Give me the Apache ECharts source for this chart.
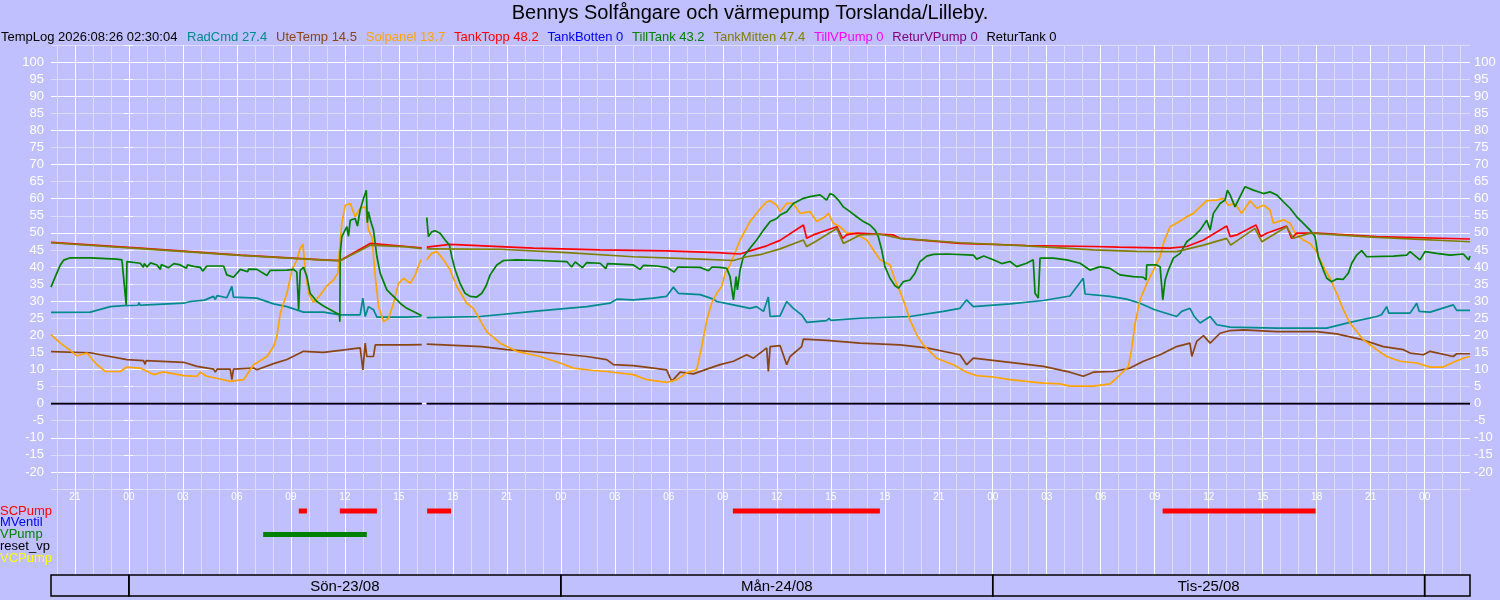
<!DOCTYPE html>
<html>
<head>
<meta charset="utf-8">
<title>Bennys Solfångare och värmepump</title>
<script src="https://cdn.jsdelivr.net/npm/echarts@6.0.0/dist/echarts.min.js"></script>
<style>
    html, body { margin: 0; padding: 0; background: #c0c0ff; }
    #chart { width: 1500px; height: 600px; }
</style>
</head>
<body>
<div id="chart"></div>
<script>
// tid = timmar från 2026-08-23 00:00 (negativt = lördag 22/08)
const X_MIN = -4.33;
const X_MAX = 74.52;

const seriesNames = ['RadCmd', 'UteTemp', 'Solpanel', 'TankTopp', 'TankBotten', 'TillTank', 'TankMitten', 'TillVPump', 'ReturVPump', 'ReturTank'];
const seriesColors = ['#008b8b', '#8b4513', '#ffa500', '#ff0000', '#0000ff', '#008000', '#808000', '#ff00ff', '#800080', '#000000'];
const lastValues = [27.4, 14.5, 13.7, 48.2, 0, 43.2, 47.4, 0, 0, 0];

// [tid, värde], null = avbrott i loggen
const radCmd = [[-4.33,26.7],[-2.15,26.8],[-1.59,27.6],[-1.04,28.4],[-0.30,28.7],[0.5,28.8],[0.56,29.6],[0.62,28.8],[1.0,28.9],[3.04,29.4],[3.41,29.9],[4.2,30.3],[4.70,31.4],[4.8,30.5],[4.9,31.6],[5.44,31.0],[5.72,34.3],[5.81,31.2],[7.11,30.9],[8.04,29.2],[8.78,28.4],[9.70,26.8],[10.81,26.8],[11.74,26.0],[12.85,26.0],[13.0,30.9],[13.13,25.5],[13.31,28.4],[13.59,27.5],[13.78,25.3],[15.44,25.3],[16.22,25.5],[16.42,null],[16.55,25.2],[19.51,25.5],[22.48,27.0],[25.44,28.4],[26.74,29.4],[27.11,30.6],[28.03,30.4],[29.14,30.9],[29.88,31.4],[30.25,34.1],[30.53,32.3],[31.74,31.9],[32.48,30.6],[32.66,29.9],[33.59,28.9],[34.51,27.9],[34.88,28.4],[35.26,27.0],[35.53,31.2],[35.63,25.5],[36.18,25.7],[36.55,29.9],[36.92,27.9],[37.38,26.0],[37.66,23.8],[38.77,24.3],[38.9,25.0],[39.0,24.4],[40.63,25.0],[43.4,25.5],[45.25,27.0],[46.18,27.9],[46.55,30.4],[46.92,28.4],[48.96,29.2],[50.81,30.2],[52.29,31.5],[53.03,36.7],[53.13,32.1],[54.51,31.4],[55.44,30.6],[56.18,29.4],[57.0,27.5],[58.22,25.5],[58.5,27.0],[58.96,27.9],[59.2,25.5],[59.52,23.6],[60.08,25.5],[60.45,23.1],[61.19,22.4],[63.78,22.1],[66.56,22.1],[67.85,23.8],[69.33,25.5],[69.6,26.0],[69.89,28.4],[70.0,26.5],[71.19,26.5],[71.56,29.4],[71.7,27.0],[72.3,26.8],[73.59,28.9],[73.78,27.3],[74.52,27.3]];

const uteTemp = [[-4.33,15.2],[-2.15,14.9],[-1.59,14.3],[-0.11,12.9],[0.81,12.6],[0.9,11.5],[0.95,12.6],[3.04,12.1],[3.78,10.9],[4.70,10.1],[4.80,9.2],[4.9,10.1],[5.63,10.1],[5.72,7.0],[5.81,10.1],[6.93,10.4],[7.11,9.9],[8.04,11.7],[8.78,12.9],[9.70,15.3],[10.81,15.0],[11.74,15.6],[12.85,16.3],[13.0,9.9],[13.13,17.7],[13.22,13.8],[13.59,13.8],[13.69,17.2],[15.44,17.2],[16.27,17.3],[16.42,null],[16.55,17.4],[19.61,16.7],[21.0,15.8],[23.96,14.6],[25.44,13.8],[26.55,12.9],[26.92,11.4],[28.03,11.1],[29.14,10.4],[29.88,9.9],[30.16,6.5],[30.63,9.2],[31.37,8.7],[32.11,10.1],[32.85,11.4],[33.59,12.4],[34.33,14.3],[34.7,13.3],[35.07,14.8],[35.44,16.3],[35.53,9.4],[35.63,16.7],[36.18,17.0],[36.55,11.4],[36.74,13.8],[37.38,16.7],[37.48,18.9],[38.77,18.5],[40.63,17.7],[42.85,17.2],[44.33,16.3],[46.18,14.3],[46.55,11.4],[46.92,13.3],[48.96,12.1],[50.81,10.9],[52.29,9.2],[53.03,8.0],[53.59,9.2],[54.7,9.4],[55.63,10.4],[56.37,12.4],[57.3,14.3],[58.22,16.7],[58.96,17.7],[59.06,13.8],[59.33,18.2],[59.71,19.9],[60.08,17.7],[60.63,20.6],[61.19,21.4],[61.93,21.6],[63.78,21.1],[66.0,21.1],[67.11,20.4],[68.41,18.9],[69.7,16.7],[70.82,15.8],[71.19,14.8],[71.93,14.3],[72.3,15.3],[73.59,13.8],[73.78,14.6],[74.52,14.6]];

const solpanel = [[-4.33,20.2],[-3.81,17.7],[-3.26,15.6],[-2.89,14.0],[-2.33,14.8],[-1.78,11.4],[-1.31,9.4],[-0.48,9.4],[-0.11,10.7],[0.63,10.4],[1.37,8.5],[1.93,9.3],[3.04,8.2],[3.78,8.0],[3.96,9.2],[4.33,8.0],[5.07,7.2],[5.63,6.5],[6.37,7.0],[6.93,11.4],[7.67,13.8],[8.04,16.7],[8.22,19.7],[8.41,26.5],[8.78,32.3],[9.06,39.1],[9.33,42.1],[9.52,45.5],[9.67,46.7],[9.80,39.1],[9.98,32.3],[10.26,29.6],[10.63,31.8],[11.0,34.5],[11.37,36.2],[11.61,38.2],[11.70,45.0],[11.83,52.8],[12.02,58.1],[12.30,58.6],[12.57,54.7],[12.85,57.2],[13.13,57.6],[13.31,50.8],[13.5,48.9],[13.69,37.2],[13.87,28.4],[14.15,24.0],[14.43,25.0],[14.70,29.4],[14.98,35.2],[15.26,36.7],[15.63,35.2],[15.91,37.7],[16.22,42.1],[16.42,null],[16.55,42.1],[16.83,44.0],[17.11,44.5],[17.48,42.1],[17.85,39.1],[18.22,34.3],[18.77,29.4],[19.14,27.9],[19.51,24.5],[19.88,21.1],[20.63,17.7],[21.55,15.3],[22.85,13.8],[23.96,11.9],[24.7,10.4],[25.81,9.7],[26.55,9.4],[28.03,8.5],[28.77,7.0],[29.88,6.2],[30.44,7.0],[30.99,9.0],[31.55,9.9],[31.83,16.7],[32.11,24.5],[32.38,29.4],[32.66,32.3],[32.94,34.3],[33.13,38.2],[33.4,40.6],[33.59,43.0],[33.96,47.9],[34.51,53.3],[35.07,57.0],[35.44,59.1],[35.63,59.4],[36.0,58.1],[36.18,56.2],[36.55,58.6],[36.92,58.6],[37.29,55.7],[37.85,56.2],[38.22,53.3],[38.68,54.7],[38.87,55.7],[39.14,52.8],[39.51,51.8],[39.88,49.9],[40.25,49.9],[40.63,48.9],[41.0,47.9],[41.37,45.0],[41.74,42.1],[42.29,40.6],[42.57,36.2],[42.85,32.8],[43.13,28.9],[43.4,24.5],[43.77,20.2],[44.14,17.2],[44.88,13.3],[45.81,11.4],[46.55,9.2],[47.11,8.2],[48.03,7.8],[48.96,7.0],[49.88,6.5],[50.81,6.0],[51.74,5.8],[52.29,5.1],[53.59,5.1],[54.52,5.8],[54.89,7.5],[55.26,9.4],[55.54,10.9],[55.72,16.0],[55.91,23.5],[56.19,30.4],[56.56,35.2],[56.93,39.1],[57.3,43.0],[57.48,46.9],[57.85,51.8],[58.22,52.8],[58.78,54.7],[59.15,55.7],[59.52,57.6],[59.89,59.4],[60.45,59.6],[60.82,60.1],[61.09,58.1],[61.46,58.6],[61.83,55.7],[62.3,59.4],[62.67,57.2],[63.04,58.1],[63.41,56.7],[63.59,52.8],[64.15,53.8],[64.52,52.8],[64.8,49.9],[65.26,47.9],[65.63,46.9],[66.0,44.5],[66.37,40.1],[66.74,36.7],[67.11,32.3],[67.48,27.5],[67.85,23.6],[68.59,18.7],[69.33,15.8],[69.89,13.8],[70.63,12.4],[71.56,11.9],[72.3,10.7],[73.04,10.7],[73.59,12.1],[74.15,13.3],[74.52,13.8]];

const tankTopp = [[-4.33,47.2],[0.63,45.5],[6.19,43.5],[10.81,42.1],[11.74,41.9],[13.41,46.9],[15.44,46.0],[16.27,45.6],[16.42,null],[16.55,45.8],[17.85,46.6],[22.48,45.5],[26.18,45.0],[29.88,44.7],[32.66,44.2],[33.96,43.8],[34.7,45.0],[35.44,46.2],[36.18,47.8],[37.48,52.3],[37.66,48.4],[38.03,49.4],[39.33,51.8],[39.66,48.4],[39.88,49.4],[40.44,49.9],[42.48,49.4],[42.85,48.4],[46.18,46.9],[49.88,46.3],[53.59,46.0],[55.0,45.8],[57.85,45.5],[58.78,46.0],[59.71,47.9],[61.0,52.0],[61.19,48.9],[61.56,49.4],[62.63,52.3],[62.89,48.9],[63.22,49.9],[64.33,52.0],[64.61,48.4],[64.89,49.9],[66.0,49.9],[69.33,48.9],[74.52,48.2]];

const tankMitten = [[-4.33,47.1],[0.63,45.4],[6.19,43.4],[10.81,42.0],[11.74,41.8],[13.41,46.4],[15.44,45.9],[16.27,45.4],[16.42,null],[16.55,45.3],[20.63,45.2],[24.33,44.2],[28.03,43.0],[31.74,42.3],[33.59,41.9],[34.33,43.0],[35.07,43.6],[36.18,45.3],[37.48,47.9],[37.66,46.0],[38.13,47.4],[39.33,51.3],[39.7,46.9],[40.63,49.4],[41.74,49.6],[42.85,48.4],[46.18,47.1],[49.88,46.2],[53.59,45.0],[56.0,44.6],[58.22,44.5],[59.71,46.4],[61.0,48.4],[61.22,46.4],[62.57,51.3],[62.95,47.4],[64.33,51.8],[64.7,48.4],[65.63,49.9],[69.33,48.7],[74.52,47.4]];

const tillTank = [[-4.33,34.1],[-4.09,37.2],[-3.81,40.6],[-3.63,42.0],[-3.26,42.7],[-2.15,42.7],[-0.67,42.3],[-0.39,42.1],[-0.15,28.9],[-0.11,41.6],[0.63,41.1],[0.8,39.9],[0.85,41.0],[1.0,40.0],[1.2,41.2],[1.56,40.6],[1.75,39.3],[1.8,40.7],[2.2,39.8],[2.5,41.0],[2.85,40.6],[3.2,39.6],[3.25,40.6],[3.6,40.2],[3.96,39.9],[4.1,38.8],[4.33,40.3],[5.26,40.3],[5.44,37.7],[5.81,37.0],[6.19,39.3],[6.6,38.6],[6.65,39.4],[7.11,39.3],[7.67,37.5],[7.85,39.0],[8.78,39.1],[9.15,39.3],[9.33,38.5],[9.43,27.5],[9.52,39.0],[9.70,39.9],[9.89,37.2],[10.07,32.3],[10.44,29.9],[10.81,28.6],[11.37,27.0],[11.70,26.0],[11.72,24.0],[11.74,44.0],[11.83,48.9],[12.11,51.8],[12.2,49.0],[12.30,53.7],[12.57,54.2],[12.7,52.0],[12.85,56.7],[13.04,60.1],[13.19,62.5],[13.25,53.0],[13.31,56.2],[13.44,53.3],[13.59,50.8],[13.78,43.0],[13.96,38.2],[14.33,33.3],[14.70,31.4],[15.07,29.4],[15.44,27.9],[15.81,27.0],[16.27,25.7],[16.42,null],[16.55,54.5],[16.64,48.9],[16.83,50.3],[17.01,50.6],[17.29,49.9],[17.57,47.9],[17.81,46.4],[17.94,43.0],[18.13,39.1],[18.4,35.2],[18.68,32.3],[18.96,31.4],[19.33,31.2],[19.61,32.3],[19.85,34.5],[20.07,37.7],[20.44,40.6],[20.81,41.9],[21.55,42.1],[22.85,41.9],[24.33,41.6],[24.6,40.0],[24.8,41.5],[25.2,39.8],[25.44,41.3],[26.18,41.1],[26.5,39.5],[26.6,41.0],[28.03,40.6],[28.4,39.3],[28.6,40.5],[29.33,40.3],[29.88,39.9],[30.3,38.5],[30.5,40.0],[31.74,39.9],[32.2,38.9],[32.4,40.0],[32.85,39.9],[33.22,39.6],[33.4,37.2],[33.59,30.4],[33.74,37.2],[33.81,33.3],[33.96,39.1],[34.14,43.0],[34.51,45.5],[34.88,47.9],[35.26,50.8],[35.63,53.3],[36.0,54.2],[36.18,55.2],[36.55,56.2],[36.92,58.6],[37.48,60.1],[37.85,60.6],[38.4,61.1],[38.77,59.6],[38.96,61.5],[39.14,61.1],[39.42,59.6],[39.7,57.6],[40.07,56.2],[40.44,54.7],[40.81,53.3],[41.18,52.3],[41.46,50.8],[41.64,48.9],[41.83,45.0],[42.01,40.1],[42.29,36.7],[42.57,34.5],[42.76,33.8],[43.03,35.7],[43.4,36.2],[43.68,38.2],[43.96,41.6],[44.33,43.2],[44.7,43.7],[45.44,43.8],[46.92,43.5],[47.11,42.3],[47.5,43.2],[48.03,42.1],[48.5,41.0],[48.96,41.6],[49.33,40.1],[49.88,41.1],[50.25,42.1],[50.35,32.3],[50.53,30.9],[50.63,42.6],[51.37,42.6],[52.11,42.1],[52.85,41.1],[53.4,39.1],[53.96,40.1],[54.51,39.6],[55.07,37.7],[55.81,37.2],[56.37,37.0],[56.52,36.2],[56.56,40.6],[57.11,40.6],[57.3,40.1],[57.45,30.4],[57.58,36.2],[57.76,39.1],[58.04,42.6],[58.41,44.0],[58.78,47.4],[59.15,48.9],[59.52,50.8],[59.89,53.7],[60.08,50.8],[60.26,55.7],[60.63,58.6],[60.91,59.6],[61.04,62.5],[61.19,61.1],[61.46,57.6],[61.74,60.6],[62.02,63.5],[62.48,62.5],[63.04,61.5],[63.41,62.0],[63.78,61.1],[64.15,59.1],[64.52,57.2],[64.89,54.7],[65.26,52.8],[65.63,50.8],[65.91,48.9],[66.09,43.0],[66.37,39.1],[66.56,36.7],[66.83,35.7],[67.11,36.5],[67.48,36.4],[67.76,38.2],[67.95,41.1],[68.22,43.5],[68.5,44.8],[68.78,43.0],[70.26,43.2],[71.0,43.5],[71.19,44.5],[71.74,42.1],[72.02,44.5],[72.67,44.0],[73.41,43.5],[74.15,43.8],[74.45,42.1],[74.52,43.2]];

const zeroLine = [[-4.33,0],[16.27,0],[16.42,null],[16.55,0],[74.52,0]];

// pumpar: start/stopp i timmar
const pumpNames = ['SCPump', 'MVentil', 'VPump', 'reset_vp', 'VCPump'];
const pumpColors = ['#ff0000', '#0000ff', '#008000', '#000000', '#ffff00'];
const pumpOn = [
    [[9.44, 9.89], [11.72, 13.78], [16.57, 17.9], [33.56, 41.73], [57.44, 65.94]],
    [],
    [[7.46, 13.22]],
    [],
    []
];

// dygnsremsan längst ner
const dayStarts = [-4.33, 0, 24, 48, 72];
const dayEnds = [0, 24, 48, 72, 74.52];
const dayLabels = ['', 'Sön-23/08', 'Mån-24/08', 'Tis-25/08', ''];

const FONT = '"Liberation Sans", Arial, sans-serif';
const GRID_LEFT = 51;
const GRID_RIGHT = 30;
const MINOR_COLOR = '#dcdcff';

const seriesData = [radCmd, uteTemp, solpanel, tankTopp, zeroLine, tillTank, tankMitten, zeroLine, zeroLine, zeroLine];

function toData(points) {
    return points.map(p => (p[1] === null ? [p[0], '-'] : p));
}

function hourLabel(h) {
    if (Math.abs(h - Math.round(h)) > 0.01) return '';
    const hh = ((Math.round(h) % 24) + 24) % 24;
    return hh.toString().padStart(2, '0');
}

// tidsaxel utan etiketter, bara stödlinjer (step = 1 eller 3 timmar)
function timeAxis(gridIndex, step, color, extra) {
    return Object.assign({
        type: 'value',
        gridIndex: gridIndex,
        position: 'bottom',
        min: X_MIN,
        max: X_MAX,
        minInterval: step,
        maxInterval: step,
        axisLine: { show: false },
        axisTick: { show: false },
        axisLabel: { show: false },
        splitLine: {
            show: color !== null,
            showMinLine: false,
            showMaxLine: false,
            lineStyle: { color: color || '#fff', width: 1 }
        }
    }, extra || {});
}

// pumpnamnen till vänster, en axel per rad så att inget döljs vid överlapp
function pumpAxis(row) {
    return {
        type: 'value',
        gridIndex: 1,
        position: 'left',
        inverse: true,
        min: -1.87,
        max: 5.45,
        axisLine: { show: false },
        axisTick: { show: false },
        splitLine: { show: false },
        axisLabel: {
            customValues: [row],
            showMinLabel: true,
            showMaxLabel: true,
            hideOverlap: false,
            formatter: () => pumpNames[row],
            color: pumpColors[row],
            align: 'left',
            margin: GRID_LEFT,
            fontSize: 13,
            fontFamily: FONT
        }
    };
}

function gridBox(top, height) {
    return { left: GRID_LEFT, right: GRID_RIGHT, top: top, height: height, outerBoundsMode: 'none', containLabel: false };
}

const TempChart = {
    chart: null,

    init() {
        this.chart = echarts.init(document.getElementById('chart'));
        this.chart.setOption(this.buildOption());
    },

    buildOption() {
        const lineSeries = seriesNames.map((name, i) => ({
            type: 'line',
            name: name,
            xAxisIndex: 1,
            yAxisIndex: 0,
            data: toData(seriesData[i]),
            symbol: 'none',
            lineStyle: { color: seriesColors[i], width: name === 'ReturTank' ? 1.8 : (seriesData[i] === zeroLine ? 1 : 1.7) },
            itemStyle: { color: seriesColors[i] },
            silent: true
        }));

        const pumpSeries = pumpOn.map((segs, i) => ({
            type: 'line',
            name: pumpNames[i],
            xAxisIndex: 3,
            yAxisIndex: 2 + i,
            data: segs.flatMap(s => [[s[0], i], [s[1], i], [s[1], '-']]),
            symbol: 'none',
            lineStyle: { color: pumpColors[i], width: 5, cap: 'butt' },
            silent: true
        }));

        const daySeries = {
            type: 'custom',
            xAxisIndex: 4,
            yAxisIndex: 7,
            silent: true,
            data: dayStarts.map((s, i) => [s, dayEnds[i], i]),
            renderItem(params, api) {
                const p0 = api.coord([api.value(0), 1]);
                const p1 = api.coord([api.value(1), 0]);
                return {
                    type: 'group',
                    children: [{
                        type: 'rect',
                        shape: { x: p0[0], y: p0[1], width: p1[0] - p0[0], height: p1[1] - p0[1] },
                        style: { fill: 'none', stroke: '#000', lineWidth: 1.5 }
                    }, {
                        type: 'text',
                        x: (p0[0] + p1[0]) / 2,
                        y: (p0[1] + p1[1]) / 2 + 1,
                        style: {
                            text: dayLabels[api.value(2)],
                            fill: '#000',
                            fontSize: 15,
                            fontFamily: FONT,
                            align: 'center',
                            verticalAlign: 'middle'
                        }
                    }]
                };
            }
        };

        const yLabel = {
            color: '#ffffff',
            fontSize: 13,
            fontFamily: FONT,
            formatter: v => (v < -20 || v > 100 ? '' : v)
        };

        return {
            backgroundColor: '#c0c0ff',
            animation: false,
            title: [{
                text: 'Bennys Solfångare och värmepump Torslanda/Lilleby.',
                left: 'center',
                top: 3,
                padding: 0,
                textStyle: { fontSize: 20, fontWeight: 'normal', color: '#000', fontFamily: FONT }
            }, {
                text: 'TempLog 2026:08:26 02:30:04',
                left: 1,
                top: 31,
                padding: 0,
                textStyle: { fontSize: 13, fontWeight: 'normal', color: '#000', fontFamily: FONT }
            }],
            legend: {
                left: 182,
                top: 31,
                padding: 0,
                itemGap: 3.8,
                itemWidth: 0,
                itemHeight: 0,
                icon: 'rect',
                selectedMode: false,
                data: seriesNames.map((name, i) => ({ name: name, textStyle: { color: seriesColors[i] } })),
                formatter: name => name + ' ' + lastValues[seriesNames.indexOf(name)],
                textStyle: { fontSize: 13, fontFamily: FONT }
            },
            grid: [gridBox(45, 444), gridBox(489, 86), gridBox(575, 21)],
            xAxis: [
                timeAxis(0, 1, MINOR_COLOR),
                timeAxis(0, 3, '#ffffff', {
                    axisLabel: {
                        show: true,
                        color: '#ffffff',
                        fontSize: 10,
                        fontFamily: FONT,
                        margin: 3,
                        showMinLabel: false,
                        showMaxLabel: false,
                        formatter: hourLabel
                    }
                }),
                timeAxis(1, 1, MINOR_COLOR),
                timeAxis(1, 3, '#ffffff'),
                timeAxis(2, 24, null)
            ],
            yAxis: [{
                type: 'value',
                gridIndex: 0,
                position: 'left',
                min: -25,
                max: 105,
                interval: 5,
                axisLine: { show: false },
                axisTick: { show: true, length: 5, lineStyle: { color: '#ffffff' } },
                axisLabel: Object.assign({ margin: 7 }, yLabel),
                splitLine: { show: true, lineStyle: { color: [MINOR_COLOR, '#ffffff'], width: 1 } }
            }, {
                type: 'value',
                gridIndex: 0,
                position: 'right',
                min: -25,
                max: 105,
                interval: 5,
                axisLine: { show: false },
                axisTick: { show: true, length: 4, lineStyle: { color: '#ffffff' } },
                axisLabel: Object.assign({ margin: 4 }, yLabel),
                splitLine: { show: false }
            }].concat(pumpNames.map((n, i) => pumpAxis(i)), [{
                type: 'value',
                gridIndex: 2,
                min: 0,
                max: 1,
                show: false
            }]),
            series: lineSeries.concat(pumpSeries, [daySeries])
        };
    }
};

TempChart.init();
</script>
</body>
</html>
